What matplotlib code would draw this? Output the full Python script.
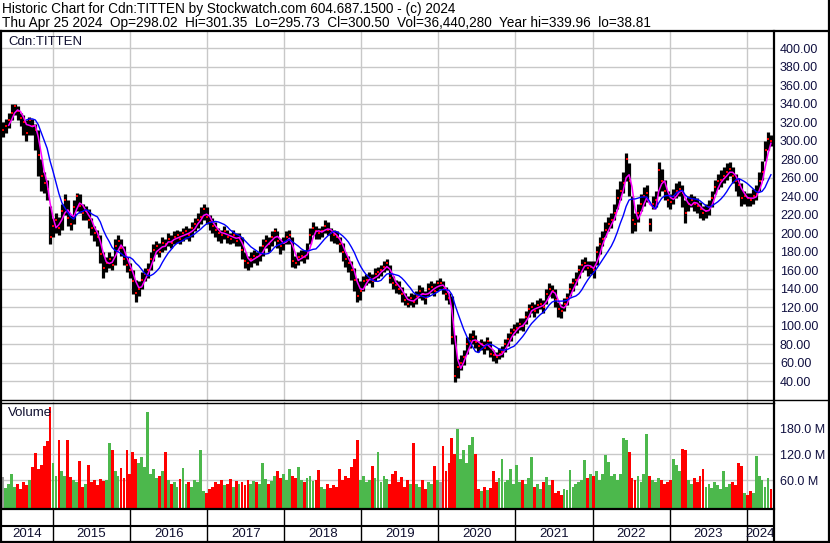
import numpy as np
import pandas as pd
import matplotlib
matplotlib.use("Agg")
import matplotlib.pyplot as plt
from matplotlib.lines import Line2D

plt.rcParams['font.family'] = ['Liberation Sans', 'DejaVu Sans']

# ---------------- data (bi-weekly bars) ----------------
start_date = '2014-05-08'
period = '14D'

close = [
    312,316,322,330,338,332,325,320,308,322,316,312,285,262,254,248,196,208,
    214,206,224,236,216,210,228,240,230,222,224,214,206,200,196,178,162,168,172,166,186,192,184,172,166,160,
    148,136,140,150,156,160,172,182,186,180,190,188,194,190,196,198,194,200,202,198,206,210,214,218,226,218,
    212,208,204,200,198,202,196,194,198,192,196,182,170,168,172,176,174,178,186,192,188,196,202,192,186,190,
    196,198,170,168,174,176,174,180,198,206,202,200,202,208,204,200,198,196,188,180,172,168,160,150,132,138,
    148,150,152,148,156,158,160,164,168,152,146,144,140,134,128,124,130,126,132,138,134,130,140,142,138,146,
    146,140,134,130,88,46,56,60,66,80,84,88,82,78,80,76,84,70,68,66,70,72,80,86,92,96,
    98,102,100,110,118,120,116,122,124,120,134,140,138,128,118,116,124,130,140,146,150,160,166,168,162,164,
    160,180,188,194,204,210,214,222,238,246,254,280,256,214,210,222,232,240,244,210,232,236,268,256,246,236,
    234,240,246,248,244,222,232,236,232,230,226,222,224,228,238,250,256,258,262,266,270,262,256,252,238,240,
    238,236,240,242,256,266,290,302,300,
]
high = [
    320,324,330,340,340,338,330,328,322,326,324,318,312,280,266,258,230,216,
    222,218,232,242,236,220,236,244,242,232,230,226,216,208,204,198,180,174,180,176,194,198,194,186,174,168,
    160,150,148,158,162,168,180,188,192,190,196,194,200,198,202,204,202,206,208,206,212,216,222,228,232,228,
    220,216,212,206,204,208,204,200,204,200,200,196,180,176,180,182,180,186,194,198,196,202,206,202,194,196,
    202,204,196,176,180,182,182,190,206,212,208,206,208,214,212,206,204,202,196,190,180,176,170,162,152,148,
    154,156,158,156,162,164,166,170,172,166,154,150,148,142,136,132,136,134,138,144,142,138,146,148,146,150,
    152,148,142,136,132,90,64,68,74,88,92,96,90,84,86,84,88,84,74,72,76,78,86,92,98,102,
    104,108,108,116,124,126,124,128,130,128,140,146,144,140,126,124,130,136,146,152,158,166,172,174,170,170,
    170,186,196,202,212,218,222,232,248,256,266,287,276,240,222,232,242,250,252,216,240,246,277,270,258,246,
    242,248,254,256,252,236,240,242,240,238,234,230,232,236,246,258,264,268,272,276,277,272,264,260,254,246,
    244,244,248,252,266,278,300,309,306,
]
low = [
    304,308,314,322,328,322,316,306,300,306,306,290,262,246,244,236,188,196,
    200,198,204,220,208,204,210,224,222,214,214,206,198,192,186,168,152,158,162,160,166,182,176,166,158,152,
    134,126,132,140,148,152,160,170,178,174,180,182,186,184,188,190,188,192,194,192,196,202,206,210,214,210,
    204,200,196,192,190,194,190,188,190,186,186,172,162,160,164,168,166,170,176,184,180,186,192,184,178,182,
    188,188,164,162,166,170,168,172,188,198,194,194,196,200,198,192,190,188,180,170,164,158,150,138,126,128,
    138,144,146,142,148,152,154,158,160,146,140,136,134,126,122,120,122,120,124,130,128,124,132,136,132,138,
    140,134,128,124,80,39,44,52,58,70,76,80,76,72,74,70,74,66,62,60,64,66,72,78,84,90,
    92,96,94,102,110,114,110,114,118,114,124,132,130,120,110,108,116,122,132,138,144,152,158,160,154,156,
    152,166,178,186,196,202,206,214,226,236,244,256,240,200,202,212,224,230,234,203,226,228,240,246,236,228,
    226,232,238,240,228,211,224,228,224,222,216,214,216,220,228,242,248,250,254,258,262,254,246,240,230,232,
    230,230,232,236,246,258,278,290,294,
]
volume_m = [
    68,42,50,75,45,52,40,55,48,60,90,122,85,95,140,150,230,100,
    70,153,80,70,153,68,60,55,105,45,50,96,55,60,48,62,58,60,145,130,80,70,88,65,130,75,
    124,110,100,113,90,218,75,85,65,70,80,124,60,50,55,45,62,88,50,55,45,60,55,130,35,30,
    40,45,55,50,60,48,52,62,45,58,50,55,48,60,52,58,55,50,99,62,50,58,70,80,65,75,
    60,85,70,65,90,60,55,65,70,58,60,83,45,40,50,42,48,44,85,60,70,65,90,109,154,60,
    70,55,60,93,65,126,55,70,62,50,75,80,55,68,45,60,50,147,50,45,60,40,55,50,92,60,
    55,139,80,100,158,120,178,110,130,100,141,160,120,40,35,45,38,42,80,55,65,108,55,60,85,50,
    94,55,60,50,65,113,45,50,40,55,67,48,60,30,35,25,40,38,84,45,50,55,60,107,65,75,
    70,80,60,75,119,102,70,75,60,75,158,153,125,65,60,70,55,75,167,70,60,55,65,60,50,55,
    60,108,95,80,133,130,60,50,65,55,70,85,45,50,42,55,48,40,80,45,50,55,48,100,92,30,
    25,35,30,115,70,60,45,65,40,
]
year_labels = [2014, 2015, 2016, 2017, 2018, 2019, 2020, 2021, 2022, 2023, 2024]
price_ticks = list(range(40, 401, 20))
volume_ticks = [60, 120, 180]

title1 = "Historic Chart for Cdn:TITTEN by Stockwatch.com 604.687.1500 - (c) 2024"
title2 = ("Thu Apr 25 2024  Op=298.02  Hi=301.35  Lo=295.73  Cl=300.50  "
          "Vol=36,440,280  Year hi=339.96  lo=38.81")
symbol = "Cdn:TITTEN"

# ---------------- derived ----------------
dates = pd.date_range(start_date, periods=len(close), freq=period)
t = np.asarray(dates.year + (dates.dayofyear - 1) / np.where(dates.is_leap_year, 366, 365), float)
cs = pd.Series(close, dtype=float)
ma_short = cs.rolling(3).mean()
ma_long = cs.rolling(9).mean()
diff = cs.diff().fillna(0).values
vcol = np.where(diff > 0, '#4cb84c', np.where(diff < 0, '#ff0000', '#a0a0a0'))

# ---------------- layout ----------------
W, H = 830, 543
fig = plt.figure(figsize=(W / 100, H / 100), dpi=100)
fig.patch.set_facecolor('white')

def fx(px):
    return px / W

def fy(py):
    return 1 - py / H

XL, XR = 2, 773
XLIM = (2014.338, 2024.341)
GRID = '#c8c8c8'
TXT = '#101040'
VBASE = -7

ax = fig.add_axes([fx(XL), fy(400), fx(XR) - fx(XL), fy(32) - fy(400)])
axv = fig.add_axes([fx(XL), fy(509), fx(XR) - fx(XL), fy(402) - fy(509)])
axd = fig.add_axes([fx(XL), fy(541), fx(XR) - fx(XL), fy(509) - fy(541)])

for a in (ax, axv, axd):
    a.set_xlim(*XLIM)
    for s in a.spines.values():
        s.set_visible(False)
    a.set_facecolor('white')

# price panel
ax.set_ylim(19.8, 417.6)
ax.set_yticks(price_ticks)
ax.set_yticklabels([f"{v:.2f}" for v in price_ticks])
ax.yaxis.tick_right()
ax.tick_params(axis='y', length=0, pad=5, labelsize=9, labelcolor=TXT)
ax.set_xticks(year_labels[1:])
ax.tick_params(axis='x', length=0, labelbottom=False)
ax.grid(True, color=GRID, lw=1.0)
ax.set_axisbelow(True)
ax.vlines(t, low, high, color='black', lw=2.3, zorder=2)
ax.plot(t + 0.006, close, ls='none', marker='_', color='red', ms=2.0, mew=1.4, zorder=3)
ax.plot(t, ma_short, color='#ff00ff', lw=1.1, zorder=4)
ax.plot(t, ma_long, color='#0000ff', lw=1.0, zorder=5)
ax.text(0.008, 0.99, symbol, transform=ax.transAxes, ha='left', va='top',
        fontsize=9.5, color='#101030')

# volume panel
axv.set_ylim(VBASE, 241)
axv.set_yticks(volume_ticks)
axv.set_yticklabels([f"{v:.1f} M" for v in volume_ticks])
axv.yaxis.tick_right()
axv.tick_params(axis='y', length=0, pad=5, labelsize=9, labelcolor=TXT)
axv.set_xticks(year_labels[1:])
axv.tick_params(axis='x', length=0, labelbottom=False)
axv.grid(True, color=GRID, lw=1.0)
axv.set_axisbelow(True)
vols = np.asarray(volume_m, float)
axv.bar(t, vols - VBASE, width=0.95 / 26, bottom=VBASE, color=vcol,
        linewidth=0, antialiased=False, zorder=2)
axv.text(0.008, 0.95, "Volume", transform=axv.transAxes, ha='left', va='top',
         fontsize=9.5, color='#101030')

# date band
axd.set_ylim(0, 1)
axd.set_xticks([])
axd.set_yticks([])
for y in year_labels[1:]:
    axd.axvline(y, color='black', lw=1.0)
axd.axhline(0.47, color='black', lw=1.5)
for y in year_labels:
    lft = max(y, XLIM[0])
    rgt = min(y + 1, XLIM[1])
    axd.text((lft + rgt) / 2, 0.22, str(y), ha='center', va='center',
             fontsize=9.5, color='#101030')

# header (font size fitted to the measured text width of the reference)
t1 = fig.text(fx(2), fy(13), title1, ha='left', va='baseline', fontsize=10, color='black')
t2 = fig.text(fx(2), fy(27), title2, ha='left', va='baseline', fontsize=10, color='black')
fig.canvas.draw()
r = fig.canvas.get_renderer()
for txt, target in ((t1, 456.0), (t2, 651.0)):
    w = txt.get_window_extent(renderer=r).width
    txt.set_fontsize(10 * target / w)

# frame lines (pixel coords)
def hline(y, x0, x1, lw):
    fig.add_artist(Line2D([fx(x0), fx(x1)], [fy(y), fy(y)], color='black', lw=lw,
                          transform=fig.transFigure))

def vline(x, y0, y1, lw):
    fig.add_artist(Line2D([fx(x), fx(x)], [fy(y0), fy(y1)], color='black', lw=lw,
                          transform=fig.transFigure))

hline(31, 0, 830, 1.6)
hline(400, 0, 830, 1.0)
hline(402.5, 0, 774, 1.0)
hline(509, 0, 774, 1.6)
hline(541.5, 0, 830, 1.6)
vline(1, 31, 542, 1.6)
vline(774, 31, 542, 1.6)
vline(829, 0, 542, 1.6)

fig.savefig('out.png', dpi=100, facecolor='white')
